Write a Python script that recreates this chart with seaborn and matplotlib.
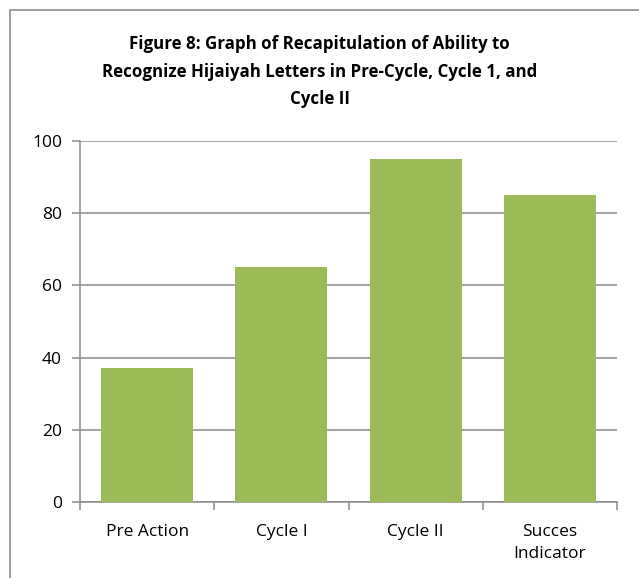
import seaborn as sns
import matplotlib.pyplot as plt
from matplotlib.patches import Rectangle
from matplotlib.ticker import FixedLocator

categories = ["Pre Action", "Cycle I", "Cycle II", "Succes\nIndicator"]
scores = [37, 65, 95, 85]
y_ticks = [0, 20, 40, 60, 80, 100]

title = ("Figure 8: Graph of Recapitulation of Ability to\n"
         "Recognize Hijaiyah Letters in Pre-Cycle, Cycle 1, and\n"
         "Cycle II")

sns.set_style("white")
plt.rcParams["font.family"] = ["Open Sans", "DejaVu Sans"]

fig = plt.figure(figsize=(6.39, 5.78), dpi=100)
ax = fig.add_axes([0.1252, 0.1315, 0.8404, 0.6246])

# outer chart frame, only left and top edges show in the crop
fig.patches.append(Rectangle((10 / 639, -0.1), 1.2, 1 - 10 / 578 + 0.1,
                             transform=fig.transFigure, fill=False,
                             edgecolor="#8c8c8c", linewidth=1.2))

sns.barplot(x=categories, y=scores, color="#9BBB59", saturation=1,
            width=0.685, linewidth=0, ax=ax, zorder=3)

ax.set_ylim(0, 100)
ax.set_xlim(-0.5, len(categories) - 0.5)
ax.set_yticks(y_ticks)
ax.yaxis.grid(True, color="#8a8a8a", linewidth=1.1, zorder=0)
ax.set_axisbelow(True)

for side in ["top", "right"]:
    ax.spines[side].set_visible(False)
for side in ["left", "bottom"]:
    ax.spines[side].set_color("#8a8a8a")
    ax.spines[side].set_linewidth(1.1)

ax.tick_params(axis="y", direction="out", length=6, width=1.1,
               color="#8a8a8a", labelsize=12.5, pad=7, left=True,
               labelcolor="black")
ax.tick_params(axis="x", which="major", length=0, labelsize=12.5, pad=16,
               labelcolor="black")
ax.xaxis.set_minor_locator(FixedLocator([i - 0.5 for i in range(len(categories) + 1)]))
ax.tick_params(axis="x", which="minor", direction="out", length=6,
               width=1.1, color="#8a8a8a", bottom=True)
for lab in ax.get_xticklabels():
    lab.set_linespacing(1.5)

ax.set_xlabel("")
ax.set_ylabel("")

fig.text(0.5, 1 - 35 / 578, title, ha="center", va="top", color="black",
         fontsize=12.2, fontweight="bold", linespacing=1.68)

fig.savefig("out.png", dpi=100)
